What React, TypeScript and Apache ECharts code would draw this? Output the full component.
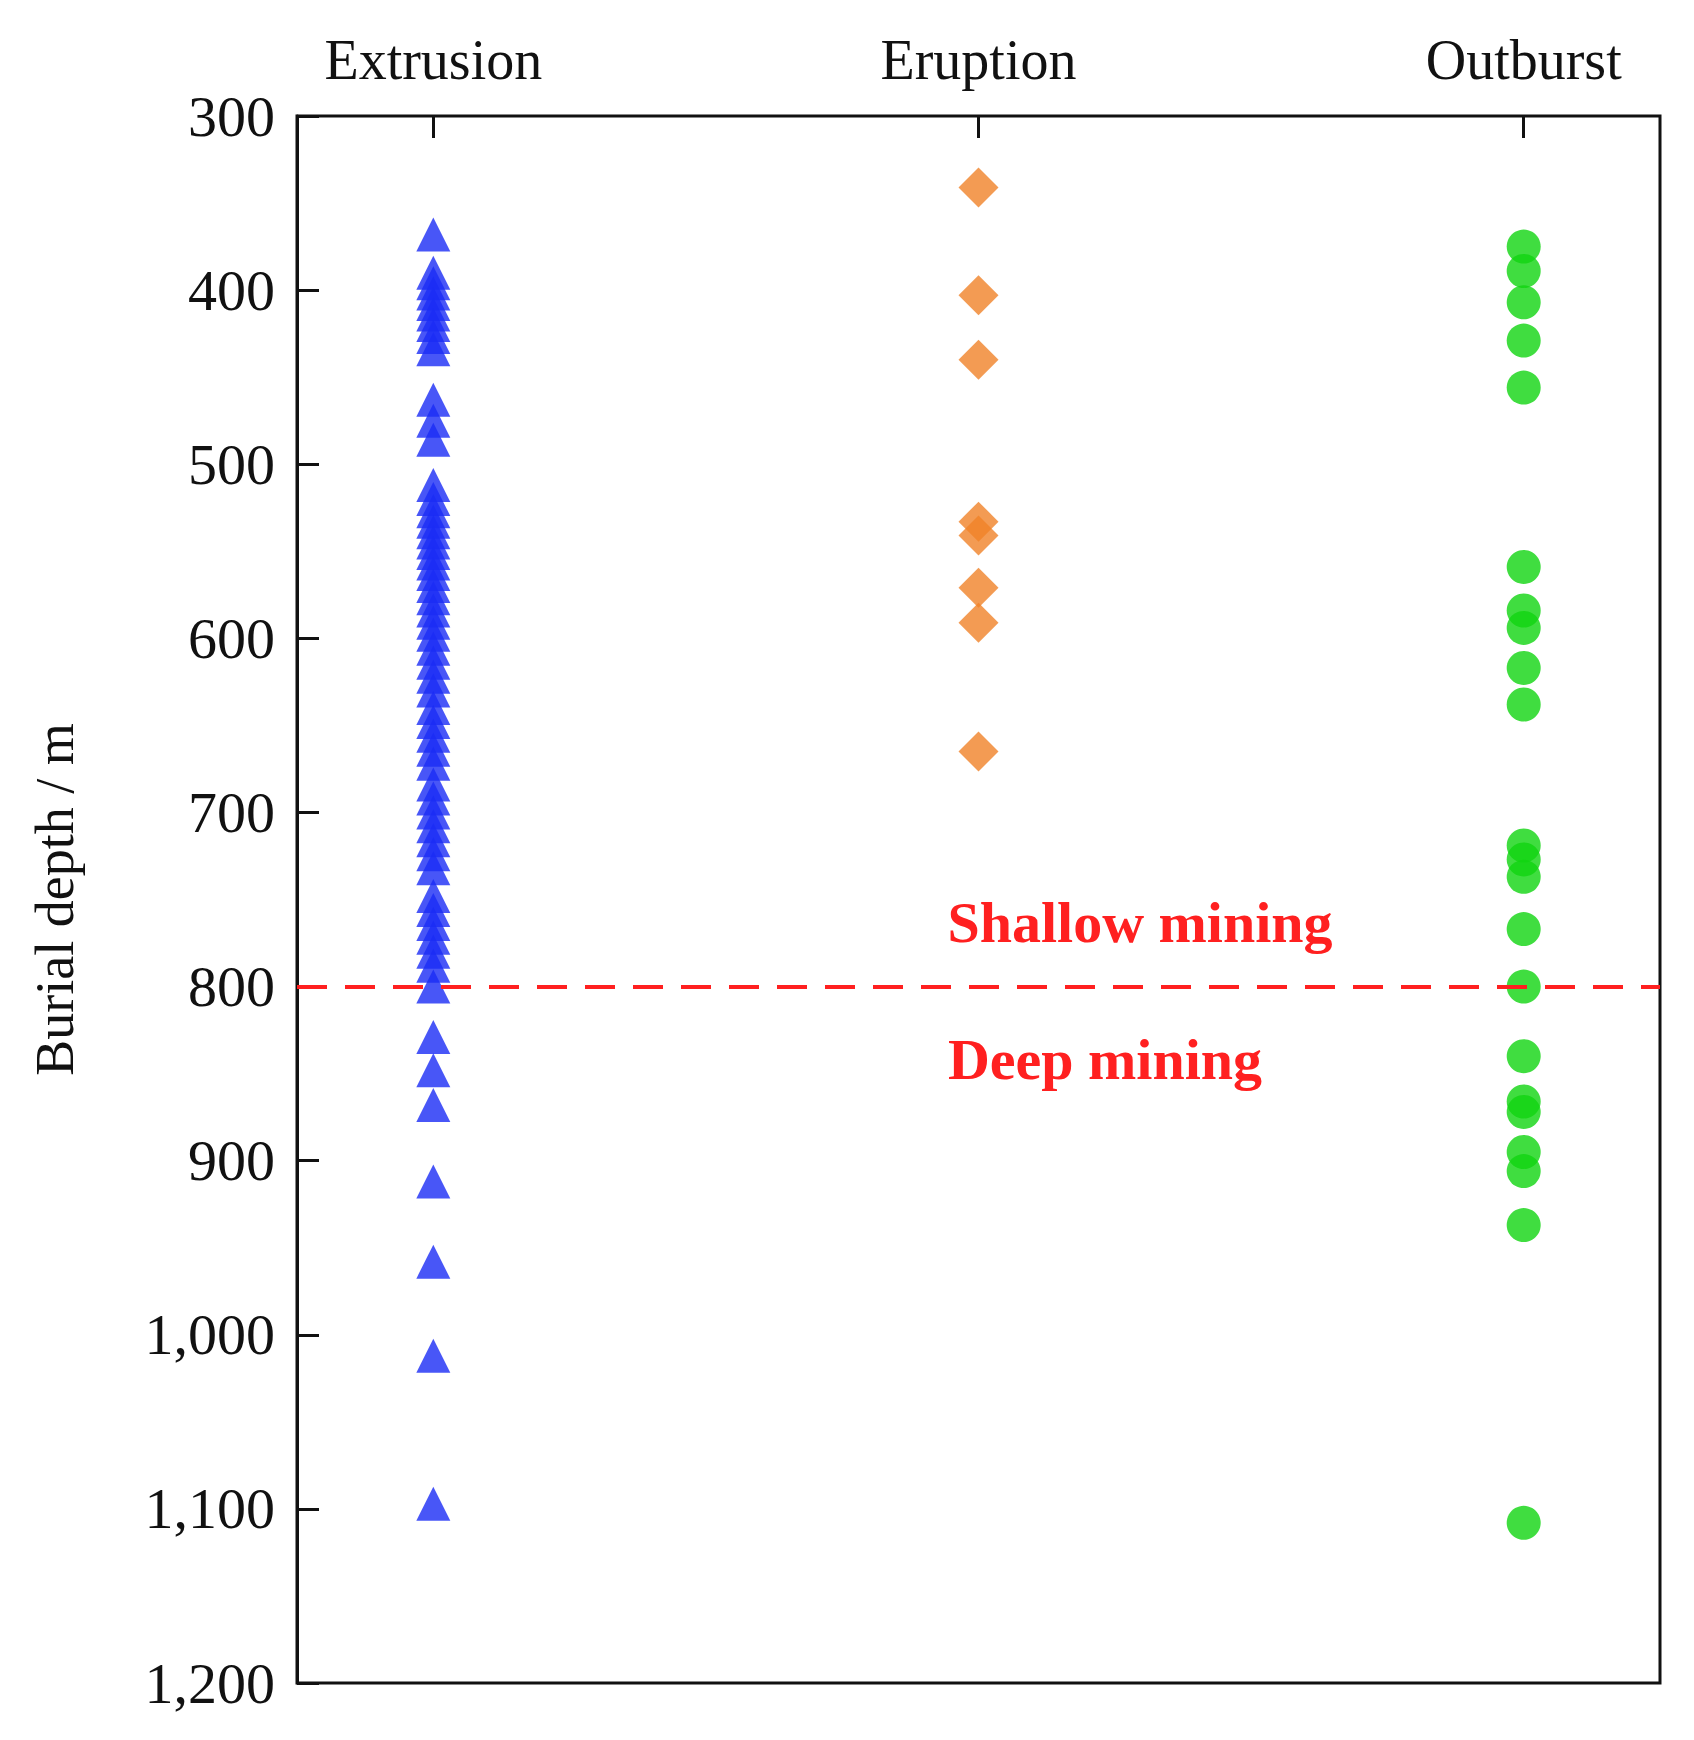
import React, { useEffect, useRef } from 'react';
import * as echarts from 'echarts';

const categories = ['Extrusion', 'Eruption', 'Outburst'];
const categoryX = [1, 5, 9];

const extrusionDepths = [
    368, 390, 396, 402, 408, 414, 420, 427, 434, 463, 475, 486,
    512, 520, 527, 533, 539, 545, 551, 557, 563, 570, 577, 584, 591, 598,
    606, 614, 622, 630, 640, 648, 656, 664, 672,
    684, 692, 700, 708, 716, 724, 732,
    748, 756, 764, 772, 780, 788,
    800, 829, 848, 868, 912, 958, 1012, 1097
];
const eruptionDepths = [341, 403, 440, 533, 541, 571, 591, 665];
const outburstDepths = [
    375, 389, 407, 429, 456, 559, 584, 594, 617, 638, 719, 727, 737,
    767, 800, 840, 866, 872, 895, 906, 937, 1108
];

const boundaryDepth = 800;
const serif = '"Liberation Serif", "DejaVu Serif", serif';

const App: React.FC = () => {
    const chartRef = useRef<HTMLDivElement>(null);

    useEffect(() => {
        document.body.style.margin = '0';
        if (!chartRef.current) return;
        const chart = echarts.init(chartRef.current, undefined, { renderer: 'svg' });

        const option: echarts.EChartsOption = {
            animation: false,
            grid: { left: 297, top: 116, width: 1363, height: 1567, show: true, borderColor: '#111', borderWidth: 3, backgroundColor: 'transparent' },
            xAxis: {
                type: 'value', position: 'top', min: 0, max: 10,
                axisLine: { show: false },
                splitLine: { show: false },
                axisTick: { inside: true, length: 22, lineStyle: { color: '#111', width: 3 }, customValues: categoryX } as any,
                axisLabel: {
                    customValues: categoryX,
                    formatter: (v: number) => categories[categoryX.indexOf(v)] ?? '',
                    fontFamily: serif, fontSize: 56, color: '#111', margin: 28
                } as any
            },
            yAxis: {
                type: 'value', inverse: true, min: 300, max: 1200, interval: 100,
                name: 'Burial depth / m', nameLocation: 'middle', nameGap: 215,
                nameTextStyle: { fontFamily: serif, fontSize: 54, color: '#111' },
                axisLine: { show: true, lineStyle: { color: '#111', width: 3 } },
                splitLine: { show: false },
                axisTick: { inside: true, length: 22, lineStyle: { color: '#111', width: 3 } },
                axisLabel: { fontFamily: serif, fontSize: 58, color: '#111', margin: 22 }
            },
            series: [
                {
                    type: 'scatter', symbol: 'triangle', symbolSize: 34,
                    itemStyle: { color: '#1a2cf5' },
                    data: extrusionDepths.map(d => [categoryX[0], d]),
                    markLine: {
                        silent: true, symbol: 'none', label: { show: false },
                        lineStyle: { color: '#ff2020', type: [30, 18], width: 4 },
                        data: [{ yAxis: boundaryDepth }]
                    }
                },
                {
                    type: 'scatter', symbol: 'diamond', symbolSize: 40,
                    itemStyle: { color: '#f08228' },
                    data: eruptionDepths.map(d => [categoryX[1], d])
                },
                {
                    type: 'scatter', symbol: 'circle', symbolSize: 34,
                    itemStyle: { color: '#10d410' },
                    data: outburstDepths.map(d => [categoryX[2], d])
                }
            ],
            graphic: [
                { type: 'text', x: 1140, y: 922, style: { text: 'Shallow mining', fontFamily: serif, fontWeight: 'bold', fontSize: 58, fill: '#ff2020', align: 'center', verticalAlign: 'middle' } },
                { type: 'text', x: 1105, y: 1059, style: { text: 'Deep mining', fontFamily: serif, fontWeight: 'bold', fontSize: 58, fill: '#ff2020', align: 'center', verticalAlign: 'middle' } }
            ]
        };

        chart.setOption(option);
        return () => chart.dispose();
    }, []);

    return <div ref={chartRef} style={{ width: '1694px', height: '1740px' }} />;
};

export default App;
